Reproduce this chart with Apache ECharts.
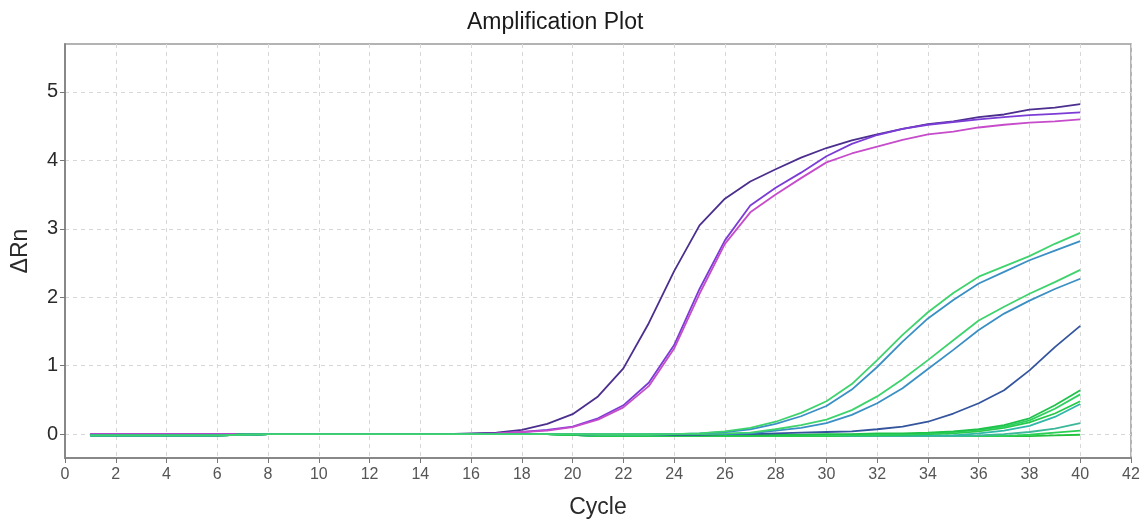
<!DOCTYPE html>
<html>
<head>
<meta charset="utf-8">
<script src="https://cdn.jsdelivr.net/npm/echarts@6/dist/echarts.min.js"></script>
<style>html,body{margin:0;padding:0;background:#fff}#c{width:1145px;height:520px}</style>
</head>
<body>
<div id="c"></div>
<script>
var titleText = 'Amplification Plot';
var xName = 'Cycle';
var yName = '\u0394Rn';
var cycles = [1,2,3,4,5,6,7,8,9,10,11,12,13,14,15,16,17,18,19,20,21,22,23,24,25,26,27,28,29,30,31,32,33,34,35,36,37,38,39,40];
var xTicks = [0,2,4,6,8,10,12,14,16,18,20,22,24,26,28,30,32,34,36,38,40,42];
var yTicks = [0,1,2,3,4,5];

var purpleA = [0,0,0,0,0, 0,0,0,0,0, 0,0,0,0,0, 0.01,0.02,0.06,0.15,0.29, 0.55,0.96,1.62,2.38,3.05, 3.44,3.69,3.87,4.04,4.18, 4.29,4.38,4.46,4.53,4.57, 4.63,4.67,4.74,4.77,4.82];
var purpleB = [0,0,0,0,0, 0,0,0,0,0, 0,0,0,0,0, 0.00,0.01,0.03,0.06,0.11, 0.23,0.42,0.75,1.30,2.12, 2.83,3.34,3.60,3.82,4.06, 4.24,4.37,4.46,4.52,4.56, 4.60,4.63,4.66,4.68,4.70];
var purpleC = [0,0,0,0,0, 0,0,0,0,0, 0,0,0,0,0, 0.00,0.01,0.03,0.05,0.10, 0.21,0.39,0.70,1.25,2.05, 2.78,3.24,3.50,3.74,3.97, 4.10,4.20,4.30,4.38,4.42, 4.48,4.52,4.55,4.57,4.60];

var g1Green = [-0.02,-0.02,-0.02,-0.02,-0.02, -0.02,-0.01,0,0,0, 0,0,0,0,0, 0,0,0,0,0, 0,0,0,0,0.01, 0.04,0.09,0.18,0.31,0.48, 0.73,1.08,1.45,1.78,2.06, 2.30,2.45,2.60,2.78,2.94];
var g1Blue = [-0.02,-0.02,-0.02,-0.02,-0.02, -0.02,-0.01,0,0,0, 0,0,0,0,0, 0,0,0,0,0, 0,0,0,0,0.01, 0.03,0.07,0.15,0.26,0.41, 0.65,0.98,1.35,1.69,1.96, 2.20,2.37,2.54,2.68,2.82];
var g2Green = [-0.02,-0.02,-0.02,-0.02,-0.02, -0.02,-0.01,0,0,0, 0,0,0,0,0, 0,0,0,0,0, -0.01,-0.01,-0.01,0,0, 0.01,0.02,0.07,0.13,0.21, 0.35,0.55,0.80,1.08,1.37, 1.66,1.86,2.05,2.22,2.40];
var g2Blue = [-0.02,-0.02,-0.02,-0.02,-0.02, -0.02,-0.01,0,0,0, 0,0,0,0,0, 0,0,0,0,0, -0.01,-0.01,-0.01,0,0, 0,0.01,0.05,0.09,0.16, 0.28,0.45,0.67,0.95,1.23, 1.52,1.76,1.95,2.12,2.27];
var g3Blue = [-0.02,-0.02,-0.02,-0.02,-0.02, -0.02,-0.01,0,0,0, 0,0,0,0,0, 0,0,0,0,0, -0.01,-0.01,-0.01,-0.01,-0.01, 0,0,0.01,0.02,0.03, 0.04,0.07,0.11,0.18,0.30, 0.45,0.64,0.93,1.27,1.58];
var g4a = [-0.02,-0.02,-0.02,-0.02,-0.02, -0.02,-0.01,0,0,0, 0,0,0,0,0, 0,0,0,0,-0.01, -0.02,-0.02,-0.02,-0.02,-0.02, -0.02,-0.02,-0.01,-0.01,0, 0,0.01,0.01,0.02,0.04, 0.07,0.13,0.23,0.42,0.64];
var g4b = [-0.02,-0.02,-0.02,-0.02,-0.02, -0.02,-0.01,0,0,0, 0,0,0,0,0, 0,0,0,0,-0.01, -0.02,-0.02,-0.02,-0.02,-0.02, -0.02,-0.02,-0.02,-0.02,-0.02, -0.01,-0.01,0,0.01,0.03, 0.06,0.11,0.20,0.37,0.58];
var g4c = [-0.02,-0.02,-0.02,-0.02,-0.02, -0.02,-0.01,0,0,0, 0,0,0,0,0, 0,0,0,0,-0.01, -0.03,-0.03,-0.03,-0.03,-0.03, -0.03,-0.03,-0.03,-0.03,-0.03, -0.02,-0.02,-0.01,0,0.01, 0.04,0.09,0.17,0.30,0.48];
var g4d = [-0.02,-0.02,-0.02,-0.02,-0.02, -0.02,-0.01,0,0,0, 0,0,0,0,0, 0,0,0,0,-0.01, -0.02,-0.02,-0.02,-0.02,-0.02, -0.02,-0.02,-0.02,-0.02,-0.02, -0.02,-0.02,-0.02,-0.02,-0.02, 0.01,0.05,0.12,0.25,0.44];
var g4e = [-0.02,-0.02,-0.02,-0.02,-0.02, -0.02,-0.01,0,0,0, 0,0,0,0,0, 0,0,0,0,-0.01, -0.03,-0.03,-0.03,-0.03,-0.03, -0.03,-0.03,-0.03,-0.03,-0.03, -0.03,-0.03,-0.03,-0.03,-0.03, -0.02,0,0.03,0.08,0.16];
var g4f = [-0.02,-0.02,-0.02,-0.02,-0.02, -0.02,-0.01,0,0,0, 0,0,0,0,0, 0,0,0,0,-0.01, -0.03,-0.03,-0.03,-0.03,-0.03, -0.03,-0.03,-0.03,-0.03,-0.03, -0.03,-0.03,-0.03,-0.03,-0.03, -0.03,-0.03,-0.01,0.02,0.05];
var g4g = [-0.02,-0.02,-0.02,-0.02,-0.02, -0.02,-0.01,0,0,0, 0,0,0,0,0, 0,0,0,0,-0.01, -0.03,-0.03,-0.03,-0.03,-0.03, -0.03,-0.03,-0.03,-0.03,-0.03, -0.03,-0.03,-0.03,-0.03,-0.03, -0.03,-0.03,-0.03,-0.02,-0.01];

var seriesDefs = [
  {name:'A', data: purpleA, color:'#4b2e8e'},
  {name:'B', data: purpleB, color:'#7b3cd6'},
  {name:'C', data: purpleC, color:'#c64ccb'},
  {name:'G4g', data: g4g, color:'#20c23c'},
  {name:'G4f', data: g4f, color:'#2bcf55'},
  {name:'G4e', data: g4e, color:'#3bb89a'},
  {name:'G4d', data: g4d, color:'#2fb7a8'},
  {name:'G4c', data: g4c, color:'#26c94a'},
  {name:'G4b', data: g4b, color:'#2ed160'},
  {name:'G4a', data: g4a, color:'#1fc24a'},
  {name:'G3', data: g3Blue, color:'#34559e'},
  {name:'G2b', data: g2Blue, color:'#3a8fc4'},
  {name:'G2g', data: g2Green, color:'#3fd36e'},
  {name:'G1b', data: g1Blue, color:'#3a8fc4'},
  {name:'G1g', data: g1Green, color:'#3fd36e'}
];

var chart = echarts.init(document.getElementById('c'), null, {renderer:'canvas'});
var font = 'Liberation Sans, Arial, sans-serif';
chart.setOption({
  animation: false,
  backgroundColor: '#fff',
  title: {
    text: titleText, left: 462, top: 6,
    textStyle: {fontFamily: font, fontSize: 23, fontWeight: 'normal', color: '#1a1a1a'}
  },
  grid: {left: 65, right: 14, top: 44, bottom: 62, show: true, borderColor: '#9a9a9a', borderWidth: 1.5, backgroundColor: '#fff', outerBoundsMode: 'none', containLabel: false},
  xAxis: {
    type: 'value', min: 0, max: 42, interval: 2,
    name: xName, nameLocation: 'middle', nameGap: 38,
    nameTextStyle: {fontFamily: font, fontSize: 23, color: '#2a2a2a'},
    axisLine: {show: true, onZero: false, lineStyle: {color: '#888', width: 2}},
    axisTick: {show: true, length: 5, lineStyle: {color: '#777'}},
    axisLabel: {fontFamily: font, fontSize: 16, color: '#555', margin: 9,
      formatter: function(v){ return xTicks.indexOf(v) >= 0 ? String(v) : ''; }},
    splitLine: {show: true, lineStyle: {color: '#d8d8d8', type: [4, 4], width: 1}}
  },
  yAxis: {
    type: 'value', min: -0.35, max: 5.7,
    name: yName, nameLocation: 'middle', nameGap: 33,
    nameTextStyle: {fontFamily: font, fontSize: 23, color: '#2a2a2a'},
    axisLine: {show: true, onZero: false, lineStyle: {color: '#888', width: 2}},
    axisTick: {show: true, length: 5, lineStyle: {color: '#777'}, customValues: yTicks},
    axisLabel: {fontFamily: font, fontSize: 20, color: '#2a2a2a', margin: 7, customValues: yTicks},
    splitLine: {show: true, lineStyle: {color: '#d8d8d8', type: [4, 4], width: 1}}
  },
  series: seriesDefs.map(function(s){
    return {
      name: s.name, type: 'line', showSymbol: false, smooth: false,
      data: cycles.map(function(c, i){ return [c, s.data[i]]; }),
      lineStyle: {color: s.color, width: 1.8},
      itemStyle: {color: s.color}
    };
  })
});
</script>
</body>
</html>
